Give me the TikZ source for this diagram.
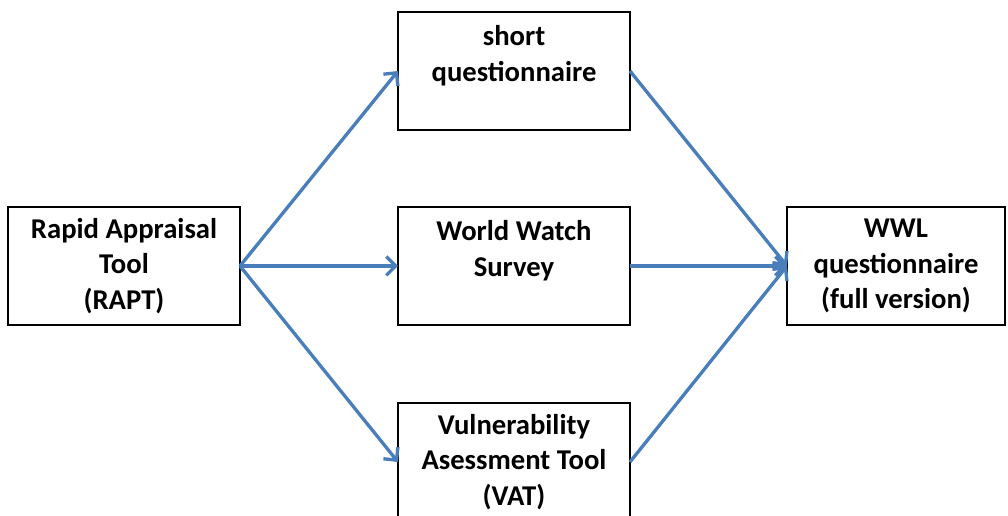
\documentclass[tikz,border=0pt]{standalone}
\usepackage{fontspec}
\setmainfont{Carlito}
\usetikzlibrary{arrows.meta}
\definecolor{arrowblue}{RGB}{74,126,187}

\begin{document}
\begin{tikzpicture} [
    x=0.75pt, y=-0.75pt,
    block/.style    = { rectangle, draw=black, line width=1pt, text centered, align=center,
                        minimum width=174pt, minimum height=88.5pt,
                        inner sep=0pt, outer sep=0pt,
                        font=\fontsize{21.5}{26.4}\selectfont\bfseries },
    line/.style     = { draw, arrowblue, line width=2.5pt,
                        -{Straight Barb[length=7pt,width=14pt]} },
  ]
  \clip (0,0) rectangle (1008,516);

  % Define nodes
  \node[block] (rapt)   at (124,266) {Rapid Appraisal\\Tool\\(RAPT)};
  \node[block] (short)  at (514,71)  {short\\questionnaire\\\mbox{}};
  \node[block] (survey) at (514,266) {World Watch\\Survey\\\mbox{}};
  \node[block] (vat)    at (514,462) {Vulnerability\\Asessment Tool\\(VAT)};
  \node[block, minimum width=163.5pt] (wwl) at (896,266) {WWL\\questionnaire\\(full version)};

  % connect the nodes
		\path [line] (rapt.east) -- (short.west);
		\path [line] (rapt.east) -- (survey.west);
		\path [line] (rapt.east) -- (vat.west);
		\path [line] (short.east) -- (wwl.west);
		\path [line] (survey.east) -- (wwl.west);
		\path [line] (vat.east) -- (wwl.west);
\end{tikzpicture}
\end{document}
